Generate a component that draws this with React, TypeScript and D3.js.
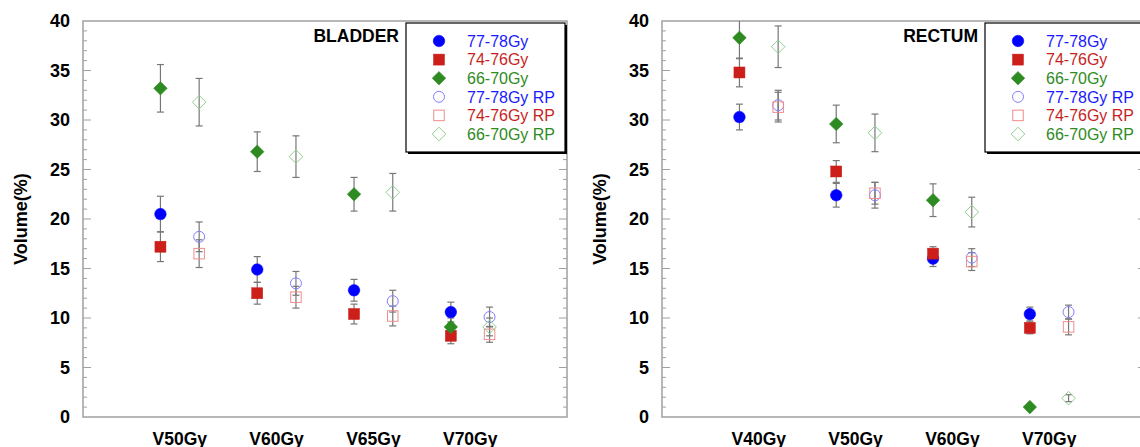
import * as d3 from 'd3';
import React, { useRef, useEffect } from 'react';

// categories
const bladderCats = ['V50Gy', 'V60Gy', 'V65Gy', 'V70Gy'];
const rectumCats = ['V40Gy', 'V50Gy', 'V60Gy', 'V70Gy'];

// bladder values (mean, error)
const bladder77 = [20.5, 14.9, 12.8, 10.6];
const bladder77Err = [1.8, 1.3, 1.1, 1.0];
const bladder74 = [17.2, 12.5, 10.4, 8.2];
const bladder74Err = [1.5, 1.1, 1.0, 0.8];
const bladder66 = [33.2, 26.8, 22.5, 9.1];
const bladder66Err = [2.4, 2.0, 1.7, 0.9];
const bladder77RP = [18.2, 13.5, 11.7, 10.1];
const bladder77RPErr = [1.5, 1.2, 1.1, 1.0];
const bladder74RP = [16.5, 12.1, 10.2, 8.35];
const bladder74RPErr = [1.4, 1.1, 1.0, 0.8];
const bladder66RP = [31.8, 26.3, 22.7, 9.1];
const bladder66RPErr = [2.4, 2.1, 1.9, 0.9];

// rectum values (mean, error)
const rectum77 = [30.3, 22.4, 16.0, 10.4];
const rectum77Err = [1.3, 1.2, 0.8, 0.7];
const rectum74 = [34.8, 24.8, 16.5, 9.0];
const rectum74Err = [1.45, 1.1, 0.7, 0.6];
const rectum66 = [38.3, 29.6, 21.9, 1.0];
const rectum66Err = [2.1, 1.9, 1.65, 0];
const rectum77RP = [31.5, 22.4, 16.1, 10.6];
const rectum77RPErr = [1.5, 1.3, 0.9, 0.7];
const rectum74RP = [31.3, 22.6, 15.7, 9.1];
const rectum74RPErr = [1.5, 1.1, 0.9, 0.8];
const rectum66RP = [37.4, 28.7, 20.7, 1.9];
const rectum66RPErr = [2.1, 1.9, 1.5, 0.35];

const seriesNames = ['77-78Gy', '74-76Gy', '66-70Gy', '77-78Gy RP', '74-76Gy RP', '66-70Gy RP'];
const yTicks = [0, 5, 10, 15, 20, 25, 30, 35, 40];

const FONT = '"Liberation Sans", Arial, sans-serif';
const textColors = ['#1a1aff', '#c81e1e', '#2e8b22', '#1a1aff', '#c81e1e', '#2e8b22'];
const markColors = ['#0000ff', '#cc1f1a', '#2e8b22', '#8080ff', '#f08c8c', '#8fd08f'];
const shapes = ['circle', 'square', 'diamond', 'circle', 'square', 'diamond'];
const filled = [true, true, true, false, false, false];

function drawMarker(g, shape, x, y, color, fill) {
  if (shape === 'circle') {
    g.append('circle').attr('cx', x).attr('cy', y).attr('r', fill ? 5.8 : 5.5)
      .attr('fill', fill ? color : 'none').attr('stroke', color).attr('stroke-width', fill ? 0.5 : 1);
  } else if (shape === 'square') {
    const s = fill ? 11 : 10.5;
    g.append('rect').attr('x', x - s / 2).attr('y', y - s / 2).attr('width', s).attr('height', s)
      .attr('fill', fill ? color : 'none').attr('stroke', color).attr('stroke-width', fill ? 0.5 : 1);
  } else {
    const h = fill ? 6.8 : 6.8;
    g.append('path').attr('d', `M${x},${y - h}L${x + h},${y}L${x},${y + h}L${x - h},${y}Z`)
      .attr('fill', fill ? color : 'none').attr('stroke', color).attr('stroke-width', fill ? 0.5 : 1);
  }
}

function drawPanel(svg, id, left, cats, series, errs, title, legendLeft) {
  const width = 484;
  const top = 21;
  const bottom = 417;
  const x = d3.scaleLinear().domain([0, 5]).range([left, left + width]);
  const y = d3.scaleLinear().domain([0, 40]).range([bottom, top]);
  const g = svg.append('g');

  svg.append('clipPath').attr('id', id).append('rect')
    .attr('x', left).attr('y', top).attr('width', width).attr('height', bottom - top);

  // frame
  g.append('rect').attr('x', left).attr('y', top).attr('width', width).attr('height', bottom - top)
    .attr('fill', 'none').attr('stroke', '#a0a0a0').attr('stroke-width', 1.5);

  // ticks on left and right
  d3.range(0, 41, 1).forEach((v) => {
    const len = v % 5 === 0 ? 8 : 4;
    if (v === 0 || v === 40) return;
    g.append('line').attr('x1', left).attr('x2', left + len).attr('y1', y(v)).attr('y2', y(v))
      .attr('stroke', '#a0a0a0').attr('stroke-width', 1);
    g.append('line').attr('x1', left + width - len).attr('x2', left + width).attr('y1', y(v)).attr('y2', y(v))
      .attr('stroke', '#a0a0a0').attr('stroke-width', 1);
  });

  g.selectAll('.ytl').data(yTicks).enter().append('text')
    .attr('x', left - 13).attr('y', (d) => y(d)).attr('dy', '0.36em')
    .attr('text-anchor', 'end').attr('font-family', FONT).attr('font-weight', 'bold')
    .attr('font-size', 18).text((d) => d);

  g.append('text').attr('transform', `translate(${left - 56},${(top + bottom) / 2}) rotate(-90)`)
    .attr('text-anchor', 'middle').attr('font-family', FONT).attr('font-weight', 'bold')
    .attr('font-size', 18).text('Volume(%)');

  g.selectAll('.xtl').data(cats).enter().append('text')
    .attr('x', (d, i) => x(i + 1)).attr('y', 445).attr('text-anchor', 'middle')
    .attr('font-family', FONT).attr('font-weight', 'bold').attr('font-size', 17.5).text((d) => d);

  g.append('text').attr('x', legendLeft - 7).attr('y', 42).attr('text-anchor', 'end')
    .attr('font-family', FONT).attr('font-weight', 'bold').attr('font-size', 17.5).text(title);

  // error bars
  const eb = g.append('g').attr('clip-path', `url(#${id})`);
  series.forEach((vals, s) => {
    const off = filled[s] ? -0.2 : 0.2;
    vals.forEach((v, i) => {
      const e = errs[s][i];
      if (e <= 0) return;
      const cx = x(i + 1 + off);
      eb.append('line').attr('x1', cx).attr('x2', cx).attr('y1', y(v - e)).attr('y2', y(v + e))
        .attr('stroke', '#777').attr('stroke-width', 1.2);
      [v - e, v + e].forEach((yy) => {
        eb.append('line').attr('x1', cx - 3.5).attr('x2', cx + 3.5).attr('y1', y(yy)).attr('y2', y(yy))
          .attr('stroke', '#777').attr('stroke-width', 1.2);
      });
    });
  });

  // markers
  const mk = g.append('g');
  series.forEach((vals, s) => {
    const off = filled[s] ? -0.2 : 0.2;
    vals.forEach((v, i) => {
      drawMarker(mk, shapes[s], x(i + 1 + off), y(v), markColors[s], filled[s]);
    });
  });

  // legend
  const lg = g.append('g');
  const lw = 159;
  lg.append('rect').attr('x', legendLeft + 2).attr('y', 25).attr('width', lw).attr('height', 129).attr('fill', '#000');
  lg.append('rect').attr('x', legendLeft).attr('y', 23).attr('width', lw).attr('height', 129)
    .attr('fill', '#fff').attr('stroke', '#000').attr('stroke-width', 1.2);
  seriesNames.forEach((name, s) => {
    const ry = 41 + s * 18.6;
    drawMarker(lg, shapes[s], legendLeft + 33, ry, markColors[s], filled[s]);
    lg.append('text').attr('x', legendLeft + 61).attr('y', ry).attr('dy', '0.36em')
      .attr('font-family', FONT).attr('font-size', 16).attr('fill', textColors[s]).text(name);
  });
}

function App() {
  const svgRef = useRef(null);
  useEffect(() => {
    const svg = d3.select(svgRef.current);
    svg.selectAll('*').remove();
    drawPanel(svg, 'clipL', 83, bladderCats,
      [bladder77, bladder74, bladder66, bladder77RP, bladder74RP, bladder66RP],
      [bladder77Err, bladder74Err, bladder66Err, bladder77RPErr, bladder74RPErr, bladder66RPErr],
      'BLADDER', 406);
    drawPanel(svg, 'clipR', 662, rectumCats,
      [rectum77, rectum74, rectum66, rectum77RP, rectum74RP, rectum66RP],
      [rectum77Err, rectum74Err, rectum66Err, rectum77RPErr, rectum74RPErr, rectum66RPErr],
      'RECTUM', 985);
  }, []);

  return (
    <svg ref={svgRef} width={1140} height={447}
      style={{ position: 'absolute', left: 0, top: 0, background: '#fff' }} />
  );
}

export default App;
